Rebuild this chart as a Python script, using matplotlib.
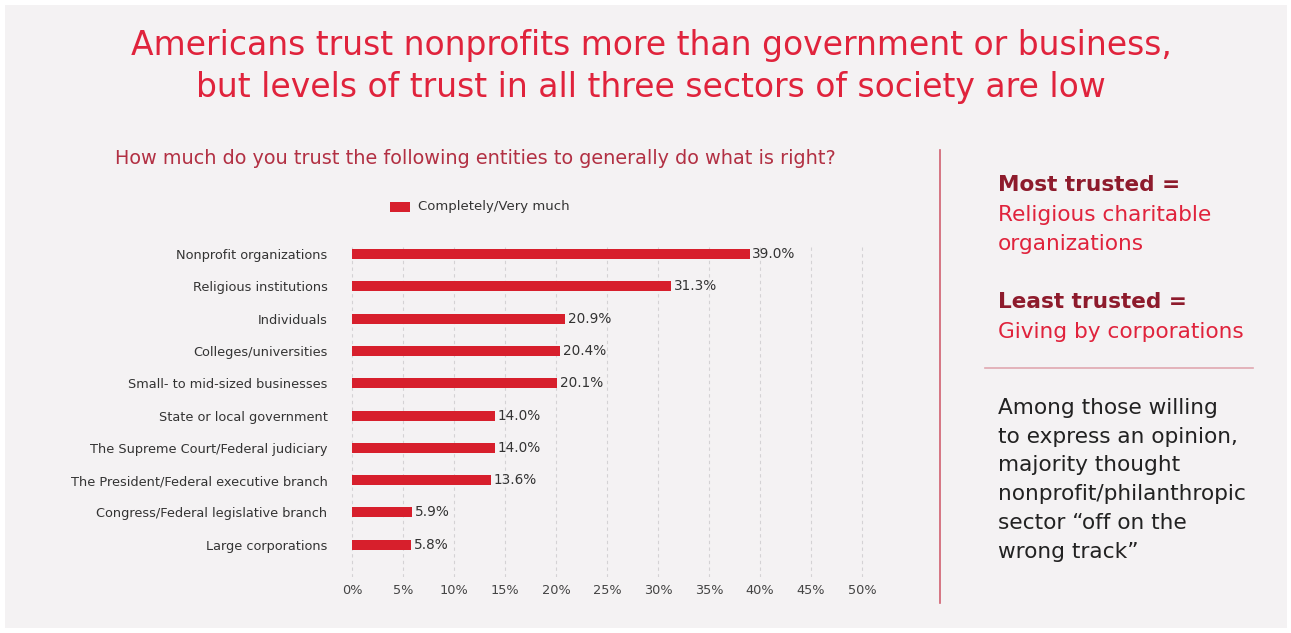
import matplotlib
matplotlib.use("Agg")
import matplotlib.pyplot as plt
from matplotlib.patches import Rectangle
from matplotlib.lines import Line2D

plt.rcParams['font.family'] = ['DejaVu Sans']

# survey data
entities = ["Nonprofit organizations", "Religious institutions", "Individuals",
            "Colleges/universities", "Small- to mid-sized businesses",
            "State or local government", "The Supreme Court/Federal judiciary",
            "The President/Federal executive branch",
            "Congress/Federal legislative branch", "Large corporations"]
trust = [39.0, 31.3, 20.9, 20.4, 20.1, 14.0, 14.0, 13.6, 5.9, 5.8]
xticks = [0, 5, 10, 15, 20, 25, 30, 35, 40, 45, 50]

RED = "#d71f2c"
TITLE_RED = "#e0233c"
DARK_RED = "#8e1b2c"
BG = "#f4f2f3"

W, H = 1291, 633
fig = plt.figure(figsize=(W / 100, H / 100), dpi=100)
fig.patch.set_facecolor("white")
fig.patches.append(Rectangle((5 / W, 5 / H), 1282 / W, 623 / H, transform=fig.transFigure,
                             facecolor=BG, edgecolor="none", zorder=-10))

def fx(px):
    return px / W

def fy(py):
    return 1 - py / H

ax = fig.add_axes([fx(347), fy(577), fx(870) - fx(347), fy(245) - fy(577)])
ax.set_facecolor("none")
ypos = list(range(len(entities)))
ax.barh(ypos, trust, height=0.31, color=RED, zorder=3)
for y, v in zip(ypos, trust):
    ax.text(v + 0.25, y, f"{v:.1f}%", va="center", ha="left", fontsize=9.8,
            color="#333333")
ax.set_xlim(-0.5, 50.8)
ax.set_ylim(10.0, -0.28)
ax.set_yticks(ypos)
ax.set_yticklabels(entities, fontsize=9.3, color="#333333")
ax.set_xticks(xticks)
ax.set_xticklabels([f"{t}%" for t in xticks], fontsize=9.3, color="#444444")
ax.tick_params(axis="y", length=0, pad=14)
ax.tick_params(axis="x", length=0, pad=5)
ax.grid(axis="x", color="#d4d2d4", linestyle=(0, (3, 3)), linewidth=0.8, zorder=0)
for s in ax.spines.values():
    s.set_visible(False)

# title and question
fig.text(fx(651), fy(45), "Americans trust nonprofits more than government or business,",
         ha="center", va="center", fontsize=23.8, color=TITLE_RED)
fig.text(fx(651), fy(87), "but levels of trust in all three sectors of society are low",
         ha="center", va="center", fontsize=23.8, color=TITLE_RED)
fig.text(fx(115), fy(158), "How much do you trust the following entities to generally do what is right?",
         ha="left", va="center", fontsize=13.9, color="#b23043")

# legend
fig.patches.append(Rectangle((fx(390), fy(212)), fx(20), 10 / H, transform=fig.transFigure,
                             facecolor=RED, edgecolor="none"))
fig.text(fx(418), fy(207), "Completely/Very much", ha="left", va="center", fontsize=9.5,
         color="#333333")

# divider lines
fig.lines.append(Line2D([fx(940), fx(940)], [fy(150), fy(603)], transform=fig.transFigure,
                        color="#d06070", linewidth=1.2))
fig.lines.append(Line2D([fx(985), fx(1253)], [fy(368), fy(368)], transform=fig.transFigure,
                        color="#e0a8b0", linewidth=1.2))

# side notes
side = [
    (185, "Most trusted =", DARK_RED, "bold"),
    (215, "Religious charitable", TITLE_RED, "normal"),
    (244, "organizations", TITLE_RED, "normal"),
    (302, "Least trusted =", DARK_RED, "bold"),
    (332, "Giving by corporations", TITLE_RED, "normal"),
    (408, "Among those willing", "#222222", "normal"),
    (437, "to express an opinion,", "#222222", "normal"),
    (465, "majority thought", "#222222", "normal"),
    (494, "nonprofit/philanthropic", "#222222", "normal"),
    (523, "sector \u201coff on the", "#222222", "normal"),
    (552, "wrong track\u201d", "#222222", "normal"),
]
for py, txt, col, wt in side:
    fig.text(fx(998), fy(py), txt, ha="left", va="center", fontsize=15.6, color=col,
             fontweight=wt)

fig.savefig("out.png", dpi=100, facecolor=fig.get_facecolor())
